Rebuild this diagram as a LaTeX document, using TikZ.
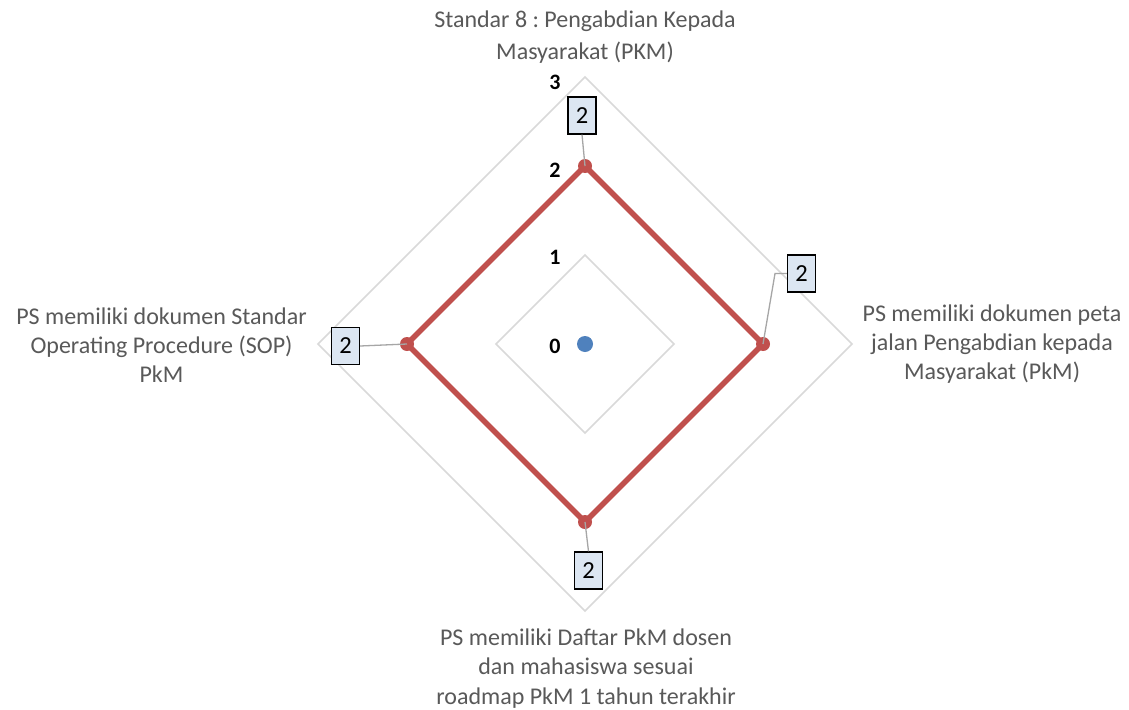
\documentclass[tikz,border=0pt]{standalone}
\usepackage{fontspec}
\setmainfont{Carlito}
\frenchspacing
\definecolor{gridc}{HTML}{D9D9D9}
\definecolor{serr}{HTML}{C0504D}
\definecolor{serb}{HTML}{4F81BD}
\definecolor{txtg}{HTML}{595959}
\definecolor{lblf}{HTML}{DCE6F2}
\definecolor{leadc}{HTML}{A6A6A6}
\begin{document}
\begin{tikzpicture}[x=1pt,y=-1pt,
  gridline/.style={draw=gridc,line width=1.5pt},
  serie/.style={draw=serr,line width=5.5pt,line join=round},
  marker/.style={circle,fill=serr,inner sep=0pt,minimum size=14pt},
  dlbl/.style={draw=black,line width=1.2pt,fill=lblf,inner sep=0pt,minimum width=28pt,minimum height=37pt,font=\fontsize{24.5}{28}\selectfont},
  leader/.style={draw=leadc,line width=1.3pt},
  axl/.style={font=\fontsize{22}{26}\selectfont\bfseries,text=black,inner sep=0pt},
  catl/.style={font=\fontsize{24}{29.3}\selectfont,text=txtg,align=center,inner sep=0pt}]
\useasboundingbox (0,0) rectangle (1129,709);
\fill[white] (0,0) rectangle (1129,709);
% grid
\draw[gridline] (585,255)--(674,344)--(585,433)--(496,344)--cycle;
\draw[gridline] (585,166)--(763,344)--(585,522)--(407,344)--cycle;
\draw[gridline] (585,77)--(852,344)--(585,611)--(318,344)--cycle;
% axis labels
\node[axl] (a3) at (555,82) {3};
\node[axl] (a2) at (555,170) {2};
\node[axl] (a1) at (555,257) {1};
\node[axl] (a0) at (555,346) {0};
% data
\coordinate (Pt) at (585,166);
\coordinate (Pr) at (763,344);
\coordinate (Pb) at (585,522);
\coordinate (Pl) at (407,344);
\draw[serie] (Pt)--(Pr)--(Pb)--(Pl)--cycle;
\node[marker] (Mt) at (Pt) {};
\node[marker] (Mr) at (Pr) {};
\node[marker] (Mb) at (Pb) {};
\node[marker] (Ml) at (Pl) {};
\node[circle,fill=serb,inner sep=0pt,minimum size=16pt] (C) at (585,344) {};
% data labels
\node[dlbl] (Lt) at (582,115.5) {2};
\node[dlbl] (Lr) at (801.5,273.5) {2};
\node[dlbl] (Ll) at (345.5,346) {2};
\node[dlbl] (Lb) at (588.5,570.5) {2};
\coordinate (Kr) at (775,273.5);
\draw[leader] (Lt.south) -- (Pt);
\draw[leader] (Lr.west) -- (Kr) -- (Pr);
\draw[leader] (Ll.east) -- (Pl);
\draw[leader] (Lb.north) -- (Pb);
% category labels
\node[catl,font=\fontsize{24}{32}\selectfont] (ct) at (585,37.5) {Standar 8 : Pengabdian Kepada\\Masyarakat (PKM)};
\node[catl] (cr) at (992,344) {PS memiliki dokumen peta\\jalan Pengabdian kepada\\Masyarakat (PkM)};
\node[catl] (cl) at (161.5,345) {PS memiliki dokumen Standar\\Operating Procedure (SOP)\\PkM};
\node[catl] (cb) at (586,668.5) {PS memiliki Daftar PkM dosen\\dan mahasiswa sesuai\\roadmap PkM 1 tahun terakhir};
\end{tikzpicture}
\end{document}
